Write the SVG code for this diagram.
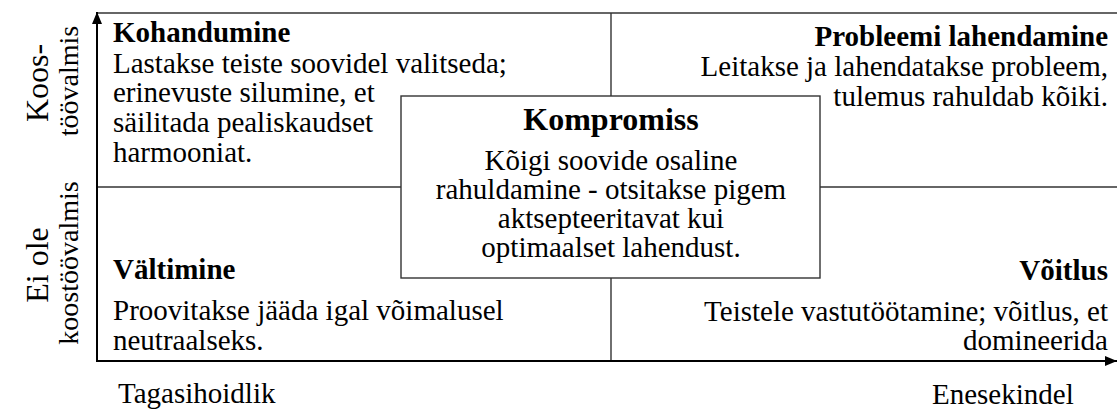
<svg xmlns="http://www.w3.org/2000/svg" width="1117" height="410" viewBox="0 0 1117 410">
  <style>
    text { font-family: "Liberation Serif", "Times New Roman", serif; font-size: 29px; fill: #000; }
    .title { font-weight: bold; }
    .mid { text-anchor: middle; }
    .end { text-anchor: end; }
    .grid { stroke: #333; stroke-width: 1.4; fill: none; }
    .axis { stroke: #000; stroke-width: 2; fill: none; }
    .axis-big { font-size: 32px; }
    .axis-small { font-size: 28px; }
  </style>
  <defs>
    <marker id="arrow" viewBox="0 0 12 10" refX="12" refY="5" markerWidth="12" markerHeight="10" markerUnits="userSpaceOnUse" orient="auto">
      <path d="M0,0 L12,5 L0,10 z" fill="#000"/>
    </marker>
  </defs>
  <rect width="1117" height="410" fill="#fff"/>

  <!-- quadrant grid -->
  <g id="grid">
    <line class="grid" x1="97" y1="13" x2="1117" y2="13"/>
    <line class="grid" x1="97" y1="187" x2="1117" y2="187"/>
    <line class="grid" x1="611" y1="13" x2="611" y2="361"/>
  </g>

  <!-- axes -->
  <g id="connectors">
    <line class="axis" x1="97" y1="362" x2="97" y2="12" marker-end="url(#arrow)"/>
    <line class="axis" x1="96" y1="361" x2="1117" y2="361" marker-end="url(#arrow)"/>
  </g>

  <!-- axis labels -->
  <g id="y-labels">
    <text class="axis-big mid" transform="translate(48,83) rotate(-90)">Koos-</text>
    <text class="axis-small mid" transform="translate(78,81) rotate(-90)">töövalmis</text>
    <text class="axis-big mid" transform="translate(48,265) rotate(-90)">Ei ole</text>
    <text class="axis-small mid" transform="translate(78,263) rotate(-90)">koostöövalmis</text>
  </g>
  <g id="x-labels">
    <text x="118" y="403">Tagasihoidlik</text>
    <text x="932" y="404">Enesekindel</text>
  </g>

  <g id="kohandumine">
    <text class="title" x="113" y="42">Kohandumine</text>
    <text x="113" y="73">Lastakse teiste soovidel valitseda;</text>
    <text x="113" y="102">erinevuste silumine, et</text>
    <text x="113" y="132">säilitada pealiskaudset</text>
    <text x="113" y="162">harmooniat.</text>
  </g>

  <g id="probleemi-lahendamine">
    <text class="title end" x="1108" y="46">Probleemi lahendamine</text>
    <text class="end" x="1108" y="76">Leitakse ja lahendatakse probleem,</text>
    <text class="end" x="1108" y="106">tulemus rahuldab kõiki.</text>
  </g>

  <g id="valtimine">
    <text class="title" x="113" y="279">Vältimine</text>
    <text x="113" y="320">Proovitakse jääda igal võimalusel</text>
    <text x="113" y="350">neutraalseks.</text>
  </g>

  <g id="voitlus">
    <text class="title end" x="1108" y="280">Võitlus</text>
    <text class="end" x="1108" y="321">Teistele vastutöötamine; võitlus, et</text>
    <text class="end" x="1108" y="350">domineerida</text>
  </g>

  <g id="kompromiss">
    <rect x="401" y="96" width="419" height="182" fill="#fff" stroke="#333" stroke-width="1.4"/>
    <text class="title mid" x="611" y="130" style="font-size:32px">Kompromiss</text>
    <text class="mid" x="611" y="170">Kõigi soovide osaline</text>
    <text class="mid" x="611" y="199">rahuldamine - otsitakse pigem</text>
    <text class="mid" x="611" y="228">aktsepteeritavat kui</text>
    <text class="mid" x="611" y="257">optimaalset lahendust.</text>
  </g>
</svg>
